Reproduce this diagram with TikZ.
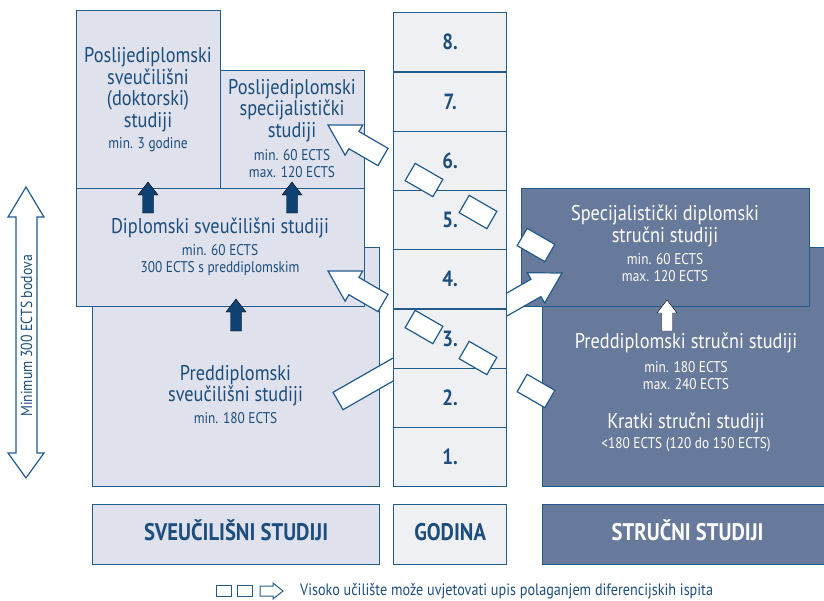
\documentclass[tikz,border=0pt]{standalone}
\usepackage{fontspec}
\setmainfont{PT Sans}[FakeStretch=0.86]
\usetikzlibrary{calc}

\definecolor{rub}{HTML}{215A8B}
\definecolor{svijetla}{HTML}{DFE1EC}
\definecolor{godinaboja}{HTML}{EEF0F3}
\definecolor{tamna}{HTML}{687A9B}
\definecolor{tekst}{HTML}{1C4D7D}
\definecolor{teget}{HTML}{0D4272}

\tikzset{
    kutija/.style={draw=rub, line width=1.3pt, fill=svijetla, anchor=north west, inner sep=0pt},
    tamnakutija/.style={kutija, fill=tamna},
    godinabox/.style={kutija, fill=godinaboja, text=tekst, font=\bfseries\fontsize{22}{22}\selectfont},
    oznaka/.style={text=tekst, font=\bfseries\fontsize{24}{24}\selectfont, text height=16.5, text depth=4},
    kvadrat/.style={draw=rub, line width=1.2pt, fill=white, minimum width=32, minimum height=20, inner sep=0pt},
    bijelastr/.style={draw=rub, line width=1.2pt, fill=white, line join=miter},
    tamnastr/.style={fill=teget},
    naslov/.style={text=tekst, align=center, inner sep=0pt, font=\fontsize{21.3}{21.4}\selectfont},
    mali/.style={text=tekst, align=center, inner sep=0pt, font=\fontsize{15.5}{17}\selectfont},
}

\newcommand{\strelica}[6]{%
    \path ($(#3)!#6pt!(#2)$) coordinate (vrat);
    \draw[#1] ($(#2)!#4pt!90:(#3)$) -- ($(vrat)!#4pt!-90:(#2)$) -- ($(vrat)!#5pt!-90:(#2)$) -- (#3)
        -- ($(vrat)!#5pt!90:(#2)$) -- ($(vrat)!#4pt!90:(#2)$) -- ($(#2)!#4pt!-90:(#3)$) -- cycle;}

\begin{document}
\begin{tikzpicture}[x=1pt, y=-1pt]

    \useasboundingbox (0,0) rectangle (824,600);

    \node[kutija, minimum width=287, minimum height=239] (predsveuc) at (92,247) {};
    \node[kutija, minimum width=288, minimum height=118] (diplomski) at (76,188) {};
    \node[kutija, minimum width=144, minimum height=178] (doktorski) at (76,10) {};
    \node[kutija, minimum width=144, minimum height=118] (specpd) at (220,70) {};

    \node[tamnakutija, minimum width=290, minimum height=239] (predstruc) at (542,247) {};
    \node[tamnakutija, minimum width=288, minimum height=118] (specstruc) at (521,188) {};

    \node[naslov] (doktorski-n) at (148,89.7) {Poslijediplomski\\sveučilišni\\(doktorski)\\studiji};
    \node[mali] (doktorski-m) at (148,144.4) {min. 3 godine};
    \node[naslov] (specpd-n) at (292,110.5) {Poslijediplomski\\specijalistički\\studiji};
    \node[mali] (specpd-m) at (292,163.2) {min. 60 ECTS\\max. 120 ECTS};
    \node[naslov] (diplomski-n) at (220,228) {Diplomski sveučilišni studiji};
    \node[mali] (diplomski-m) at (220,260.5) {min. 60 ECTS\\300 ECTS s preddiplomskim};
    \node[naslov] (predsveuc-n) at (235.5,385.8) {Preddiplomski\\sveučilišni studiji};
    \node[mali] (predsveuc-m) at (235.5,418) {min. 180 ECTS};

    \node[naslov, text=white] (specstruc-n) at (665,225.8) {Specijalistički diplomski\\stručni studiji};
    \node[mali, text=white] (specstruc-m) at (665,268) {min. 60 ECTS\\max. 120 ECTS};
    \node[naslov, text=white] (predstruc-n) at (686,343.3) {Preddiplomski stručni studiji};
    \node[mali, text=white] (predstruc-m) at (686,375.5) {min. 180 ECTS\\max. 240 ECTS};
    \node[naslov, text=white] (kratki-n) at (686,422.5) {Kratki stručni studiji};
    \node[mali, text=white] (kratki-m) at (686,444.5) {<180 ECTS (120 do 150 ECTS)};

    \coordinate (duga-rep) at (338,401);
    \coordinate (duga-vrh) at (562,273);
    \strelica{bijelastr}{duga-rep}{duga-vrh}{10}{17.5}{30}

    \foreach \g in {1,...,8}
        \node[godinabox, minimum width=113, minimum height=59.25] (g\g) at (393,{486-\g*59.25}) {\g.};

    \node[kvadrat, rotate=-30] (k1) at (424,180) {};
    \node[kvadrat, rotate=-30] (k2) at (478,212) {};
    \node[kvadrat, rotate=-30] (k3) at (536,245) {};
    \node[kvadrat, rotate=-30] (k4) at (424,327) {};
    \node[kvadrat, rotate=-30] (k5) at (478,358) {};
    \node[kvadrat, rotate=-30] (k6) at (536,391) {};

    \coordinate (gore-rep) at (383,157);
    \coordinate (gore-vrh) at (328,125);
    \strelica{bijelastr}{gore-rep}{gore-vrh}{10}{17.5}{30}
    \coordinate (sred-rep) at (383,303);
    \coordinate (sred-vrh) at (328,271);
    \strelica{bijelastr}{sred-rep}{sred-vrh}{10}{17.5}{30}

    \coordinate (s1-rep) at (148,213);
    \coordinate (s1-vrh) at (148,182);
    \strelica{tamnastr}{s1-rep}{s1-vrh}{5.5}{10}{13}
    \coordinate (s2-rep) at (292,213);
    \coordinate (s2-vrh) at (292,182);
    \strelica{tamnastr}{s2-rep}{s2-vrh}{5.5}{10}{13}
    \coordinate (s3-rep) at (236,331);
    \coordinate (s3-vrh) at (236,299);
    \strelica{tamnastr}{s3-rep}{s3-vrh}{5.5}{10}{13}
    \coordinate (s4-rep) at (667,331);
    \coordinate (s4-vrh) at (667,300);
    \strelica{fill=white}{s4-rep}{s4-vrh}{5.5}{10}{13}

    \draw[bijelastr] (26,187) -- (44,217) -- (37,217) -- (37,453) -- (44,453) -- (26,478)
        -- (8,453) -- (16,453) -- (16,217) -- (8,217) -- cycle;
    \node[mali, rotate=90, font=\fontsize{16}{17}\selectfont] (minimum-t) at (26.5,336) {Minimum 300 ECTS bodova};

    \node[kutija, minimum width=287, minimum height=60, oznaka] (lsveuc) at (92,504) {SVEUČILIŠNI STUDIJI};
    \node[kutija, fill=godinaboja, minimum width=113, minimum height=60, oznaka] (lgodina) at (393,504) {GODINA};
    \node[tamnakutija, minimum width=290, minimum height=60, oznaka, text=white] (lstruc) at (542,504) {STRUČNI STUDIJI};

    \node[kvadrat, minimum width=15, minimum height=11, line width=1pt] (leg1) at (224,591) {};
    \node[kvadrat, minimum width=15, minimum height=11, line width=1pt] (leg2) at (245,591) {};
    \coordinate (leg-rep) at (260,591);
    \coordinate (leg-vrh) at (283,591);
    \strelica{bijelastr, line width=1pt}{leg-rep}{leg-vrh}{5}{8}{10}
    \node[mali, anchor=west, font=\fontsize{16.5}{17}\selectfont] (legenda) at (300,591) {Visoko učilište može uvjetovati upis polaganjem diferencijskih ispita};

\end{tikzpicture}
\end{document}
